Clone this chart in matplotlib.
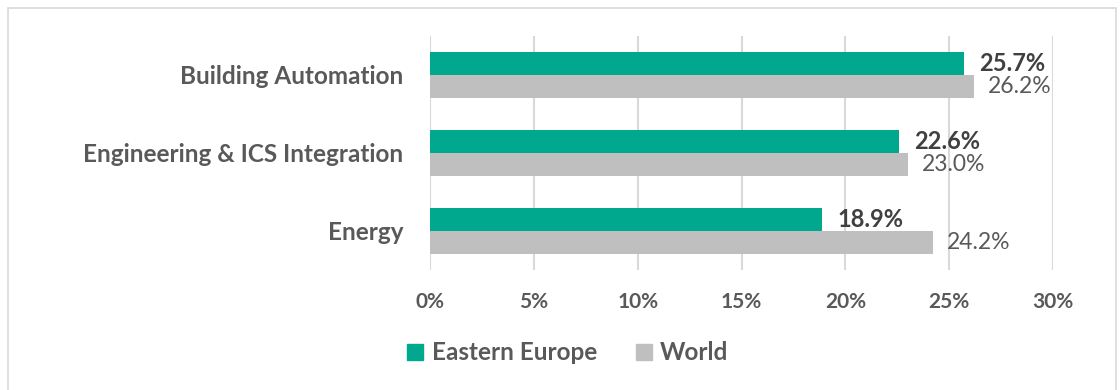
import matplotlib
matplotlib.use("Agg")
import matplotlib.pyplot as plt
from matplotlib.patches import Rectangle, Patch
from matplotlib.ticker import FuncFormatter

plt.rcParams['font.family'] = ['Lato', 'DejaVu Sans']

categories = ["Energy", "Engineering & ICS Integration", "Building Automation"]
eastern_europe = [18.9, 22.6, 25.7]
world = [24.2, 23.0, 26.2]
series_names = ["Eastern Europe", "World"]
x_ticks = [0, 5, 10, 15, 20, 25, 30]

green = "#00a88e"
grey = "#bfbfbf"
grid_col = "#d9d9d9"
text_col = "#595959"
value_col = "#404040"

W, H = 1120, 390
fig = plt.figure(figsize=(W / 100, H / 100), dpi=100)
ax = fig.add_axes([430 / W, 1 - 270 / H, 623 / W, 234 / H])

h = 0.295
ypos = list(range(len(categories)))
ee_y = [y + h / 2 for y in ypos]
w_y = [y - h / 2 for y in ypos]
ax.barh(ee_y, eastern_europe, height=h, color=green, zorder=3)
ax.barh(w_y, world, height=h, color=grey, zorder=3)

for y, v in zip(ee_y, eastern_europe):
    ax.annotate(f"{v:.1f}%", (v, y), xytext=(11, 0), textcoords="offset points",
                va="center", ha="left", fontsize=17, fontweight="bold",
                color=value_col)
for y, v in zip(w_y, world):
    ax.annotate(f"{v:.1f}%", (v, y), xytext=(10, 0), textcoords="offset points",
                va="center", ha="left", fontsize=16.5, color=text_col)

ax.set_xlim(0, 30)
ax.set_ylim(-0.5, len(categories) - 0.5)
ax.set_xticks(x_ticks)
ax.xaxis.set_major_formatter(FuncFormatter(lambda v, p: f"{v:.0f}%"))
ax.set_yticks(ypos)
ax.set_yticklabels(categories, fontweight="bold")
ax.tick_params(axis="y", length=0, pad=19, labelsize=17.5, labelcolor=text_col)
ax.tick_params(axis="x", length=0, pad=16, labelsize=15, labelcolor=text_col)
for lbl in ax.get_xticklabels():
    lbl.set_fontweight("bold")
ax.grid(axis="x", color=grid_col, linewidth=1.5, zorder=0)
for s in ax.spines.values():
    s.set_visible(False)

handles = [Patch(color=green), Patch(color=grey)]
fig.legend(handles, series_names, loc="center", bbox_to_anchor=(0.507, 1 - 353 / H),
           ncol=2, frameon=False, handlelength=0.65, handleheight=0.65,
           handletextpad=0.35, columnspacing=1.6, labelcolor=text_col,
           prop={"weight": "bold", "size": 17.5})

fig.patches.append(Rectangle((8 / W, -0.05), 1108 / W, 1.05 - 8 / H,
                             transform=fig.transFigure, fill=False,
                             edgecolor=grid_col, linewidth=1.2))

fig.savefig("out.png", dpi=100)
